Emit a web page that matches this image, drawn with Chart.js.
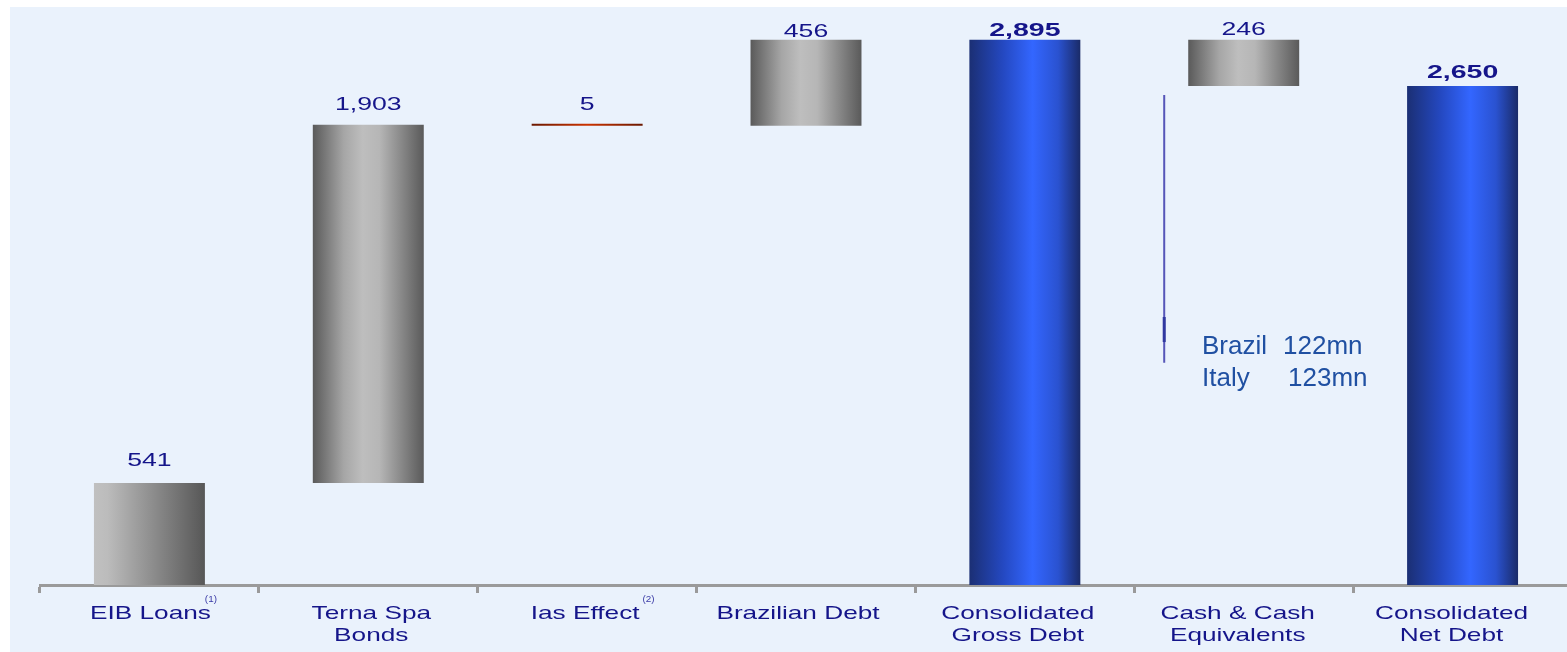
<!DOCTYPE html>
<html>
<head>
<meta charset="utf-8">
<script src="https://cdn.jsdelivr.net/npm/chart.js@4.4.1/dist/chart.umd.min.js"></script>
<style>
  html, body { margin: 0; padding: 0; overflow: hidden; background: #ffffff; }
  #wrap { position: absolute; left: 0; top: 0; width: 1580px; height: 652px; }
</style>
</head>
<body>
<div id="wrap"><canvas id="c" width="1580" height="652"></canvas></div>
<script>
// ---------------- data ----------------
const categories = [
  ['EIB Loans'],
  ['Terna Spa', 'Bonds'],
  ['Ias Effect'],
  ['Brazilian Debt'],
  ['Consolidated', 'Gross Debt'],
  ['Cash & Cash', 'Equivalents'],
  ['Consolidated', 'Net Debt']
];
const amounts  = [541, 1903, -5, 456, 2895, -246, 2650];
const barTypes = ['step', 'step', 'step', 'step', 'total', 'step', 'total'];
const footnotes = ['(1)', '', '(2)', '', '', '', ''];
const cashSplitNames  = ['Brazil', 'Italy'];
const cashSplitValues = [122, 123];
const yRange = [0, 3000];

// ---------------- styles ----------------
const barStyles   = ['ramp', 'cyl', 'red', 'cyl', 'blue', 'cyl', 'blue'];
const labelGap    = [17, 15, 15, 3, 4, 5, 8];
const labelShift  = [1, 3, -2, -8, -7, -6, -11];
const footnoteDx  = [0, 0, 9, 0, 0, 0, 0];
const BG_BLUE = '#eaf2fc';
const NAVY = '#15158a';

// floating ranges for the waterfall, built from the amounts
let running = 0;
const ranges = amounts.map((v, i) => {
  if (barTypes[i] === 'total') { running = v; return [0, v]; }
  const s = running; running += v;
  return [Math.min(s, running), Math.max(s, running)];
});
const valueLabels = amounts.map(v => Math.abs(v).toLocaleString('en-US'));

const gradStops = {
  ramp: [[0, '#c0c0c0'], [0.12, '#bcbcbc'], [1, '#575757']],
  cyl:  [[0, '#5a5a5a'], [0.28, '#a6a6a6'], [0.45, '#bebebe'], [0.6, '#b6b6b6'], [1, '#5a5a5a']],
  red:  [[0, '#6a1800'], [0.5, '#cc3300'], [1, '#6a1800']],
  blue: [[0, '#1b2f74'], [0.3, '#2448c0'], [0.57, '#3366ff'], [0.8, '#2a52d0'], [1, '#1a2b68']]
};
const BAR_PCT = 0.507;

function barFill(ctx) {
  const chart = ctx.chart;
  const i = ctx.dataIndex;
  const stops = gradStops[barStyles[i]] || gradStops.cyl;
  if (!chart.chartArea || !chart.scales.x) return stops[1][1];
  const xs = chart.scales.x;
  const cx = xs.getPixelForValue(i);
  const w = xs.width / categories.length * BAR_PCT;
  const g = chart.ctx.createLinearGradient(cx - w / 2, 0, cx + w / 2, 0);
  stops.forEach(s => g.addColorStop(s[0], s[1]));
  return g;
}

function stretchedText(ctx, text, x, y, font, color, sx, align) {
  ctx.save();
  ctx.font = font;
  ctx.fillStyle = color;
  ctx.textAlign = align || 'center';
  ctx.textBaseline = 'alphabetic';
  ctx.translate(x, y);
  ctx.scale(sx, 1);
  ctx.fillText(text, 0, 0);
  ctx.restore();
}

const backgroundPlugin = {
  id: 'bg',
  beforeDraw(chart) {
    const c = chart.ctx;
    c.save();
    c.fillStyle = '#ffffff';
    c.fillRect(0, 0, chart.width, chart.height);
    c.fillStyle = BG_BLUE;
    c.fillRect(10, 7, chart.width - 10, chart.height - 7);
    c.restore();
  }
};

const textPlugin = {
  id: 'texts',
  afterDraw(chart) {
    const c = chart.ctx;
    const xs = chart.scales.x, ys = chart.scales.y;
    const bottom = chart.chartArea.bottom;
    // value labels
    ranges.forEach((r, i) => {
      const cx = xs.getPixelForValue(i);
      const top = ys.getPixelForValue(r[1]);
      const bold = barTypes[i] === 'total';
      stretchedText(c, valueLabels[i], cx, top - labelGap[i],
        (bold ? 'bold ' : '') + '19px "Liberation Sans", Arial, sans-serif',
        NAVY, bold ? 1.5 : 1.4);
    });
    // category labels
    const axisFont = '19px "Liberation Sans", Arial, sans-serif';
    const SX = 1.38;
    categories.forEach((lines, i) => {
      const cx = xs.getPixelForValue(i) + labelShift[i];
      lines.forEach((ln, k) => {
        stretchedText(c, ln, cx, bottom + 34 + k * 22, axisFont, NAVY, SX);
      });
      if (footnotes[i]) {
        c.save();
        c.font = axisFont;
        const w = c.measureText(lines[0]).width * SX;
        c.restore();
        stretchedText(c, footnotes[i], cx + w / 2 + footnoteDx[i], bottom + 17,
          '9px "Liberation Sans", Arial, sans-serif', '#3a3aa6', 1.1);
      }
    });
    // cash breakdown annotation
    const cashIdx = 5;
    const ccx = xs.getPixelForValue(cashIdx);
    const lx = ccx - 79.5;
    c.save();
    c.strokeStyle = '#5656b8';
    c.lineWidth = 2;
    c.beginPath();
    c.moveTo(lx, ys.getPixelForValue(2602));
    c.lineTo(lx, ys.getPixelForValue(1180));
    c.stroke();
    c.strokeStyle = '#3038a0';
    c.lineWidth = 3;
    c.beginPath();
    c.moveTo(lx, ys.getPixelForValue(1423));
    c.lineTo(lx, ys.getPixelForValue(1290));
    c.stroke();
    c.restore();
    const annFont = '26px "Liberation Sans", Arial, sans-serif';
    const annColor = '#2050a2';
    const rowsY = [ys.getPixelForValue(1227), ys.getPixelForValue(1057)];
    const valX = [ccx + 39.3, ccx + 44.3];
    cashSplitNames.forEach((n, k) => {
      stretchedText(c, n, ccx - 41.7, rowsY[k], annFont, annColor, 1, 'left');
      stretchedText(c, cashSplitValues[k] + 'mn', valX[k], rowsY[k], annFont, annColor, 1, 'left');
    });
  }
};

new Chart(document.getElementById('c'), {
  type: 'bar',
  data: {
    labels: categories,
    datasets: [{
      data: ranges,
      backgroundColor: barFill,
      borderWidth: 0,
      borderSkipped: false,
      minBarLength: 2,
      barPercentage: BAR_PCT,
      categoryPercentage: 1
    }]
  },
  options: {
    responsive: false,
    devicePixelRatio: 1,
    animation: false,
    layout: { padding: { left: 40, right: 8, top: 20, bottom: 0 } },
    plugins: { legend: { display: false }, tooltip: { enabled: false } },
    scales: {
      x: {
        z: 1,
        offset: true,
        grid: {
          display: true, drawOnChartArea: false, drawTicks: true,
          tickLength: 8, tickWidth: 3, tickColor: '#9a9a9a', color: '#9a9a9a', lineWidth: 3
        },
        border: { display: true, color: '#9a9a9a', width: 3 },
        ticks: { display: false },
        afterFit(s) { s.height = 67; }
      },
      y: {
        display: false,
        min: yRange[0],
        max: yRange[1]
      }
    }
  },
  plugins: [backgroundPlugin, textPlugin]
});
</script>
</body>
</html>
